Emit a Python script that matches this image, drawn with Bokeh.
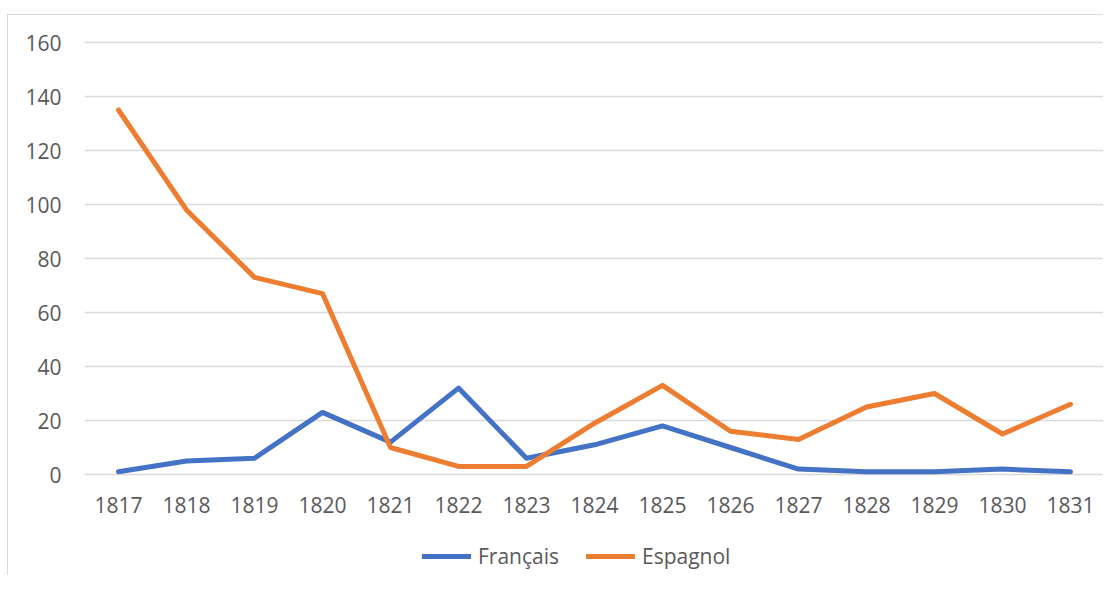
from bokeh.plotting import figure
from bokeh.models import FactorRange, Range1d, FixedTicker, Legend, LegendItem
from bokeh.embed import file_html
from bokeh.resources import INLINE

years = ["1817", "1818", "1819", "1820", "1821", "1822", "1823", "1824",
         "1825", "1826", "1827", "1828", "1829", "1830", "1831"]
francais = [1, 5, 6, 23, 12, 32, 6, 11, 18, 10, 2, 1, 1, 2, 1]
espagnol = [135, 98, 73, 67, 10, 3, 3, 19, 33, 16, 13, 25, 30, 15, 26]
y_ticks = [0, 20, 40, 60, 80, 100, 120, 140, 160]

FONT = "Open Sans"
TXT = "#595959"
GRID = "#d9d9d9"

OFF_X, OFF_Y = 7, 14           # chart-area border offset
W, H = 1104 - OFF_X - 1, 576 - OFF_Y - 1
TOP, LEFT = 42 - OFF_Y - 1 - 2, 84 - OFF_X - 1
PX_PER_UNIT = 2.7
Y_MAX = 160
y_hi = Y_MAX + 2 / PX_PER_UNIT
frame_h = H - TOP
y_min = y_hi - frame_h / PX_PER_UNIT   # room below 0 for axis labels and legend

p = figure(x_range=FactorRange(*years), y_range=Range1d(y_min, y_hi),
           width=W, height=H, output_backend="svg", toolbar_location=None,
           min_border_left=LEFT, min_border_right=0, min_border_top=TOP, min_border_bottom=0,
           margin=(OFF_Y, 0, 0, OFF_X))
p.styles = {"border-left": f"1px solid {GRID}", "border-top": f"1px solid {GRID}"}
p.outline_line_color = None
p.background_fill_color = "white"
p.border_fill_color = "white"

l1 = p.line(years, francais, line_color="#4472C4", line_width=5,
            line_cap="round", line_join="round")
l2 = p.line(years, espagnol, line_color="#ED7D31", line_width=5,
            line_cap="round", line_join="round")

p.xgrid.grid_line_color = None
p.ygrid.grid_line_color = GRID
p.ygrid.grid_line_width = 1.5
p.yaxis.ticker = FixedTicker(ticks=y_ticks)
p.xaxis.fixed_location = 0

for ax in (p.xaxis[0], p.yaxis[0]):
    ax.axis_line_color = None
    ax.major_tick_line_color = None
    ax.minor_tick_line_color = None
    ax.major_tick_out = 0
    ax.major_tick_in = 0
    ax.major_label_text_font = FONT
    ax.major_label_text_font_size = "21px"
    ax.major_label_text_color = TXT
p.yaxis.major_label_standoff = 23
p.xaxis.major_label_standoff = 22

legend = Legend(items=[LegendItem(label="Français", renderers=[l1]),
                       LegendItem(label="Espagnol", renderers=[l2])],
                orientation="horizontal", location=(338, 6))
legend.label_text_font = FONT
legend.label_text_font_size = "21px"
legend.label_text_color = TXT
legend.glyph_width = 49
legend.glyph_height = 20
legend.label_standoff = 7
legend.spacing = 27
legend.border_line_color = None
legend.background_fill_alpha = 0
legend.padding = 0
legend.margin = 0
p.add_layout(legend)

open("out.html", "w").write(file_html(p, INLINE))
